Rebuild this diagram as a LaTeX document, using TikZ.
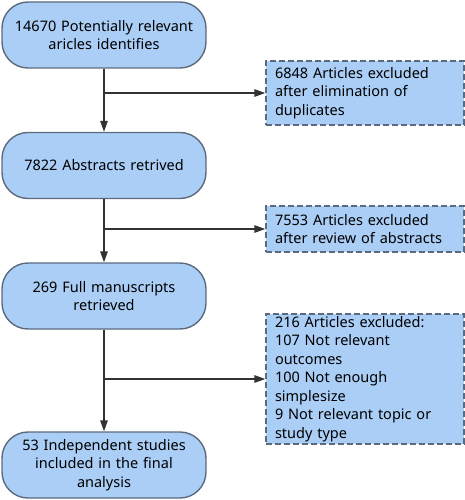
\documentclass[tikz,border=0pt]{standalone}
\usepackage{fontspec}
\setmainfont{Noto Sans}
\usetikzlibrary{arrows.meta}
\definecolor{boxfill}{RGB}{170,206,246}
\definecolor{boxline}{RGB}{92,106,126}
\definecolor{arrcol}{RGB}{50,50,50}
\begin{document}
\begin{tikzpicture}[x=1pt,y=-1pt,
  txt/.style={font=\fontsize{14.5}{18.5}\selectfont},
  mainbox/.style={txt,draw=boxline,fill=boxfill,line width=1.4pt,rounded corners=26pt,
    minimum width=204pt,minimum height=66pt,align=center,inner sep=0pt,text width=196pt},
  sidebox/.style={txt,draw=boxline,fill=boxfill,line width=1.4pt,dash pattern=on 6pt off 3pt,
    minimum width=194pt,align=left,inner xsep=9pt,inner ysep=0pt,text width=180pt},
  arr/.style={draw=arrcol,line width=1.4pt,-{Triangle[length=11pt,width=7.5pt]}},
  ln/.style={draw=arrcol,line width=1.4pt}
]
\useasboundingbox (0,0) rectangle (464,500);
\node[mainbox] (b1) at (104,35) {14670 Potentially relevant\\aricles identifies};
\node[mainbox] (b2) at (104,165.5) {7822 Abstracts retrived};
\node[mainbox] (b3) at (104,296) {269 Full manuscripts\\retrieved};
\node[mainbox] (b4) at (104,465) {53 Independent studies\\included in the final\\analysis};
\node[sidebox,minimum height=64pt] (sA) at (365,93) {6848 Articles excluded\\after elimination of\\duplicates};
\node[sidebox,minimum height=46pt] (sB) at (365,229) {7553 Articles excluded\\after review of abstracts};
\node[sidebox,minimum height=130pt] (sC) at (365,379) {216 Articles excluded:\\107 Not relevant\\outcomes\\100 Not enough\\simplesize\\9 Not relevant topic or\\study type};
\draw[arr] (b1) -- (b2);
\draw[arr] (b2) -- (b3);
\draw[arr] (b3) -- (b4);
\coordinate (jA) at (b1.south |- sA.west);
\coordinate (jB) at (b2.south |- sB.west);
\coordinate (jC) at (b3.south |- sC.west);
\draw[arr] (jA) -- (sA.west);
\draw[arr] (jB) -- (sB.west);
\draw[arr] (jC) -- (sC.west);
\end{tikzpicture}
\end{document}
